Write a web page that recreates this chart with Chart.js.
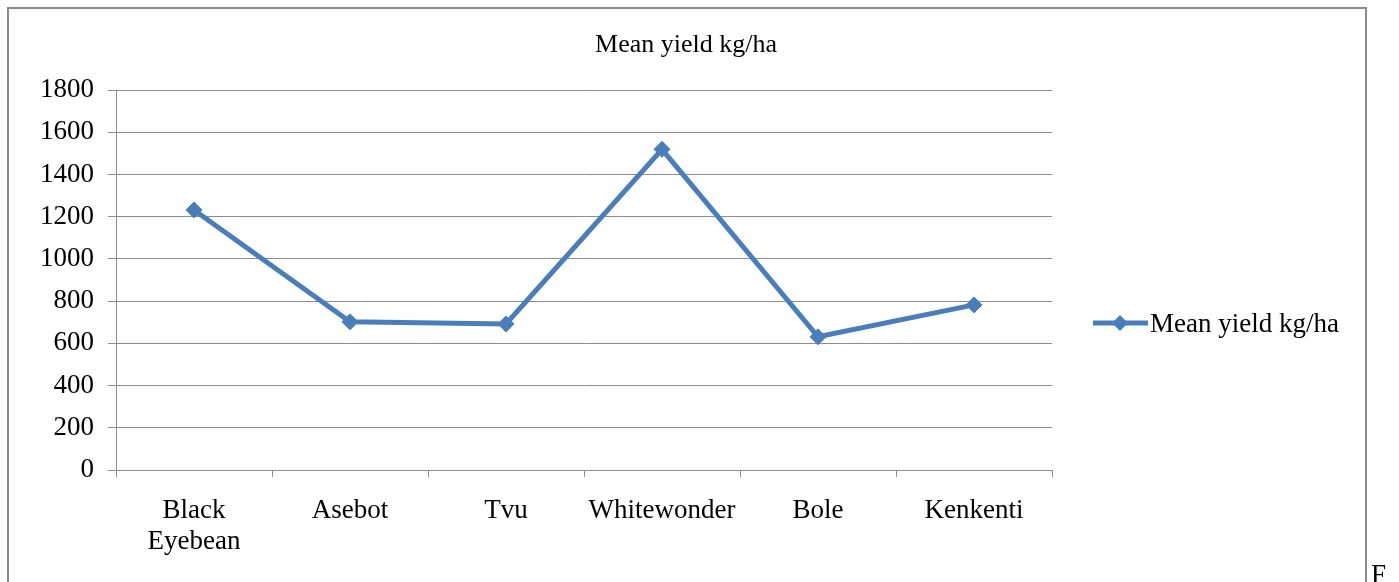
<!DOCTYPE html>
<html>
<head>
<meta charset="utf-8">
<script src="https://cdn.jsdelivr.net/npm/chart.js@4"></script>
<style>
  html, body { margin:0; padding:0; background:#fff; width:1399px; height:582px; overflow:hidden; }
  #frame { position:absolute; left:7px; top:7px; width:1360px; height:600px; border:2px solid #8a8a8a; box-sizing:border-box; }
  #wrap { position:absolute; left:0; top:0; width:1399px; height:582px; }
  #fig { position:absolute; left:1371px; top:559px; font:27px 'Liberation Serif','Times New Roman',serif; color:#000; }
</style>
</head>
<body>
<div id="frame"></div>
<div id="wrap"><canvas id="c" width="1399" height="582"></canvas></div>
<div id="fig">F</div>
<script>
const categories = ["Black\nEyebean", "Asebot", "Tvu", "Whitewonder", "Bole", "Kenkenti"];
const meanYield = [1232, 702, 692, 1519, 631, 782];
const yTicks = [0, 200, 400, 600, 800, 1000, 1200, 1400, 1600, 1800];
const seriesName = "Mean yield kg/ha";
const chartTitle = "Mean yield kg/ha";

const FONT = "'Liberation Serif','Times New Roman',serif";
const BLUE = "#4a7ebb";
const GRID = "#8c8c8c";

const overlay = {
  id: 'overlay',
  afterDraw(chart) {
    const ctx = chart.ctx;
    ctx.save();
    // title
    ctx.fillStyle = '#000';
    ctx.font = "26px " + FONT;
    ctx.textAlign = 'center';
    ctx.textBaseline = 'alphabetic';
    ctx.fillText(chartTitle, 686, 52);
    // legend
    const ly = 323;
    ctx.strokeStyle = BLUE;
    ctx.lineWidth = 5;
    ctx.beginPath();
    ctx.moveTo(1093, ly);
    ctx.lineTo(1148, ly);
    ctx.stroke();
    ctx.fillStyle = BLUE;
    ctx.beginPath();
    ctx.moveTo(1120, ly - 8);
    ctx.lineTo(1128, ly);
    ctx.lineTo(1120, ly + 8);
    ctx.lineTo(1112, ly);
    ctx.closePath();
    ctx.fill();
    ctx.fillStyle = '#000';
    ctx.textAlign = 'left';
    ctx.font = "27px " + FONT;
    ctx.fillText(seriesName, 1150, 332);
    ctx.restore();
  }
};

new Chart(document.getElementById('c'), {
  type: 'line',
  data: {
    labels: categories.map(s => s.split("\n")),
    datasets: [{
      label: seriesName,
      data: meanYield,
      borderColor: BLUE,
      backgroundColor: BLUE,
      borderWidth: 5,
      pointStyle: 'rectRot',
      pointRadius: 8,
      pointHoverRadius: 8,
      pointBackgroundColor: BLUE,
      pointBorderColor: BLUE,
      pointBorderWidth: 1,
      tension: 0,
      fill: false
    }]
  },
  options: {
    responsive: false,
    animation: false,
    events: [],
    layout: { padding: { top: 90, right: 347, left: 0, bottom: 0 } },
    plugins: { legend: { display: false }, title: { display: false }, tooltip: { enabled: false } },
    scales: {
      x: {
        type: 'category',
        offset: true,
        grid: { offset: true, drawOnChartArea: false, drawTicks: true, tickLength: 7, color: GRID, lineWidth: 1 },
        border: { display: true, color: GRID, width: 1 },
        ticks: { color: '#000', font: { family: FONT, size: 27, lineHeight: 1.17 }, padding: 18, maxRotation: 0, autoSkip: false },
        afterFit(scale) { scale.height = 112; }
      },
      y: {
        min: 0, max: 1800,
        afterBuildTicks(scale) { scale.ticks = yTicks.map(v => ({ value: v })); },
        grid: { color: GRID, lineWidth: 1, tickLength: 8, drawTicks: true },
        border: { display: true, color: GRID, width: 1 },
        ticks: { color: '#000', font: { family: FONT, size: 27 }, padding: 14, callback: v => String(v) },
        afterFit(scale) { scale.width = 116; }
      }
    }
  },
  plugins: [overlay]
});
</script>
</body>
</html>
